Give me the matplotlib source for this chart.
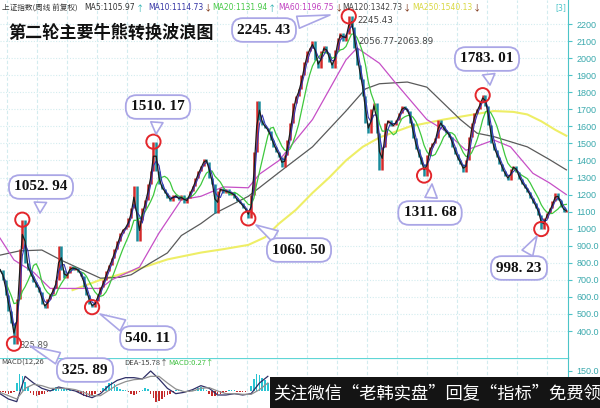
import numpy as np
import pandas as pd
import matplotlib
matplotlib.use("Agg")
import matplotlib.pyplot as plt
from matplotlib.patches import Rectangle

plt.rcParams['font.family'] = ['Noto Sans CJK SC', 'DejaVu Sans']

# 上证指数 weekly close, one value every 3 weeks (1994 -> 2005)
close = [
    760, 700, 610, 520, 450, 325.89, 590, 880, 1052.94, 800,
    760, 720, 690, 660, 630, 560, 535, 590, 620, 650,
    700, 900, 760, 710, 740, 780, 760, 770, 745, 720,
    660, 610, 560, 540.11, 575, 620, 660, 700, 750, 790,
    830, 880, 930, 975, 1000, 1010, 1060, 1120, 1250, 930,
    1050, 1120, 1170, 1260, 1340, 1510.17, 1340, 1260, 1230, 1210,
    1180, 1165, 1200, 1185, 1170, 1195, 1150, 1180, 1220, 1250,
    1300, 1340, 1370, 1410, 1390, 1300, 1260, 1090, 1220, 1240,
    1210, 1230, 1200, 1215, 1180, 1160, 1150, 1120, 1110, 1060.50,
    1200, 1450, 1750, 1640, 1610, 1590, 1570, 1520, 1480, 1450,
    1420, 1360, 1430, 1520, 1620, 1740, 1780, 1820, 1900, 1980,
    2040, 2060, 2100, 1990, 1940, 2040, 2070, 2030, 1980, 1940,
    2050, 2120, 2150, 2100, 2140, 2245.43, 2180, 2060, 1960, 1880,
    1780, 1620, 1560, 1700, 1740, 1560, 1345, 1480, 1620, 1640,
    1600, 1610, 1640, 1680, 1720, 1700, 1690, 1620, 1530, 1470,
    1420, 1380, 1311.68, 1430, 1480, 1500, 1530, 1640, 1600, 1580,
    1560, 1540, 1480, 1440, 1400, 1380, 1330, 1400, 1540, 1620,
    1680, 1700, 1750, 1783.01, 1720, 1610, 1500, 1460, 1420, 1380,
    1340, 1310, 1285, 1350, 1370, 1330, 1290, 1260, 1240, 1215,
    1180, 1150, 1120, 1080, 998.23, 1060, 1090, 1120, 1160, 1210,
    1170, 1130, 1100, 1110,
]

# 牛熊转换点 (index into close)
turn_idx = [5, 8, 33, 55, 89, 125, 152, 173, 194]

# long moving averages
ma60_idx = [0, 5, 12, 18, 30, 36, 40, 50, 57, 65, 72, 80, 89, 93, 100, 112, 124, 128,
            136, 141, 153, 159, 167, 177, 183, 191, 197, 203]
ma60_val = [945, 817, 745, 650, 650, 650, 700, 775, 975, 1170, 1190, 1245, 1240, 1320,
            1400, 1640, 1990, 2060, 1970, 1870, 1640, 1580, 1460, 1520, 1480, 1325, 1268, 1200]
ma120_idx = [0, 7, 15, 22, 28, 36, 43, 47, 54, 60, 65, 72, 77, 89, 100, 112, 124, 131,
             136, 141, 146, 153, 165, 171, 177, 189, 197, 203]
ma120_val = [845, 870, 875, 815, 770, 710, 715, 730, 800, 858, 960, 1030, 1090, 1190,
             1330, 1480, 1690, 1820, 1850, 1855, 1860, 1830, 1640, 1560, 1540, 1480, 1405, 1345]
ma250_idx = [26, 36, 47, 60, 72, 80, 89, 95, 100, 106, 112, 118, 124, 130, 136, 147,
             159, 168, 177, 184, 189, 194, 199, 203]
ma250_val = [640, 700, 750, 820, 860, 880, 905, 950, 1030, 1110, 1210, 1300, 1400, 1480,
             1535, 1600, 1640, 1665, 1690, 1685, 1670, 1630, 1580, 1545]

# MACD (visible part only, left of the banner)
macd_hist = [
    -5, -10, -15, -20, -15, -10,
    60, 130, 110, 70, 30,
    -15, -30, -35, -30, -25, -20, -10,
    10, 20, 30, 25, 20, 25, 15, 10, 5, 0,
    -10, -25, -40, -45, -40, -30, -20, -10, -5,
    20, 40, 60, 65, 50, 30,
    15, 10, 5, -5,
    -20, -30, -20, -10,
    10, 20, 15,
    -20, -50, -80, -75, -60, -45, -30, -20, -10,
    5, 10, 5, -5, -10, -5, 5, 10,
    25, 30, 20, 10,
    -20, -35, -40, -35, -25, -15, -5,
    5, 10, 5, -5, -10, -10, -5, 0,
    40, 90, 130, 120, 100, 80, 60,
]
dif_idx = list(range(0, 97, 3))
dif_val = [-20, -60, -80, 110, 60, 20, 0, 30, 15, 0, -30, -50, -20, 40, 80, 100, 100,
           90, 150, 90, 20, -20, -10, 10, 40, 20, -30, -30, -20, -30, -20, 60, 110]
dea_val = [-10, -35, -60, 20, 50, 40, 20, 20, 20, 10, -10, -35, -35, 5, 45, 70, 85,
           90, 110, 110, 60, 15, -5, 0, 20, 25, 0, -20, -20, -25, -25, 10, 60]

ma_legend = [("MA5:1105.97", "↑"), ("MA10:1114.73", "↓"), ("MA20:1131.94", "↑"),
             ("MA60:1196.75", "↓"), ("MA120:1342.73", "↓"), ("MA250:1540.13", "↓")]

W, H = 600, 408
CY = '#4cc4c8'
GRID = '#d3ecef'

fig = plt.figure(figsize=(W / 100, H / 100), dpi=100)
mx = fig.add_axes([0, 0, 568 / W, 50 / H])
ax = fig.add_axes([0, 50 / H, 568 / W, 358 / H])
ax.set_zorder(2)

s = pd.Series(close)
k = np.arange(len(close))
xmax = 568 / 2.79

# candles: open = previous close
opens = s.shift(1).fillna(s)
up = s >= opens
ax.vlines(k[up], opens[up], s[up], colors='#d42a2a', lw=1.8, zorder=3)
ax.vlines(k[~up], opens[~up], s[~up], colors='#1a8c9c', lw=1.8, zorder=3)

ax.plot(ma250_idx, ma250_val, color='#eeee66', lw=1.5, zorder=2)
ax.plot(ma120_idx, ma120_val, color='#5a5a5a', lw=0.9, zorder=2)
ax.plot(ma60_idx, ma60_val, color='#c64fc6', lw=0.9, zorder=2)
ax.plot(k, s.rolling(7, min_periods=1).mean(), color='#3ec83e', lw=0.9, zorder=4)
ax.plot(k, s.rolling(3, min_periods=1).mean(), color='#3434b4', lw=0.8, zorder=4)
ax.plot(k, s.rolling(2, min_periods=1).mean(), color='#1c1c1c', lw=0.9, zorder=4)

tv = s[turn_idx]
ax.scatter(turn_idx, tv, s=105, facecolors='none', edgecolors='#e3262b', linewidths=1.4, zorder=6)

# callout boxes: (box centre, tail tip) in image pixels
call_pos = [((85, 370), (30, 346)), ((41, 187), (40, 213)), ((148, 338), (100, 314)),
            ((158, 107), (156, 134)), ((299, 250), (256, 225)), ((264, 30), (330, 15)),
            ((430, 213), (432, 184)), ((487, 59), (490, 85)), ((519, 268), (537, 236))]
for v, (box, tip) in zip(tv, call_pos):
    ax.annotate(f"{v:.2f}".replace(".", ". "), xy=(tip[0], H - tip[1]), xycoords='figure pixels',
                xytext=(box[0], H - box[1]), textcoords='figure pixels',
                ha='center', va='center', fontsize=11, fontweight='bold',
                family=['Liberation Serif', 'DejaVu Serif'], color='#111', zorder=8,
                bbox=dict(boxstyle='round,pad=0.35,rounding_size=0.7', fc='white', ec='#aaa6e6', lw=1.3),
                arrowprops=dict(arrowstyle='wedge,tail_width=0.8,shrink_factor=0.5',
                                fc='white', ec='#aaa6e6', lw=1.2, shrinkB=0))

ax.annotate(f"{close[5]:.2f}", xy=(5, close[5]), xytext=(4, -1), textcoords='offset points',
            fontsize=6, color='#555', va='center', family='DejaVu Sans')
ax.annotate(f"{close[125]:.2f}", xy=(125, close[125]), xytext=(6, -3), textcoords='offset points',
            fontsize=6.3, color='#444', va='center', family='DejaVu Sans')
fig.text(358 / W, 1 - 42 / H, "2056.77-2063.89", fontsize=6.3, color='#444', va='center', family='DejaVu Sans')

ax.set_xlim(0, xmax)
ax.set_ylim(242, 2341)
yt = list(range(400, 2201, 100))
ax.set_yticks(yt)
ax.set_yticklabels([f"{v}" if v >= 1000 else f"{v:.1f}" for v in yt])
ax.yaxis.tick_right()
ax.tick_params(axis='y', colors=CY, labelcolor='#3aa9ad', labelsize=6.5, length=3, pad=3)
for lab in ax.get_yticklabels():
    lab.set_family('Liberation Sans')
gx = np.arange(2.5, xmax, 10.75)
ax.set_xticks(gx)
ax.tick_params(axis='x', length=0, labelbottom=False)
ax.grid(axis='y', color=GRID, ls=(0, (1, 1.5)), lw=0.8)
ax.grid(axis='x', color=GRID, ls=(0, (3, 2)), lw=0.8)
for sp in ['top', 'left', 'bottom']:
    ax.spines[sp].set_visible(False)
ax.spines['right'].set_color(CY)

# MACD panel
mk = np.arange(len(macd_hist))
hist = np.array(macd_hist)
mx.bar(mk, hist, width=0.55, color=np.where(hist >= 0, '#29c4d2', '#c42a2a'))
mx.plot(dif_idx, dif_val, color='#2e2e66', lw=0.9)
mx.plot(dif_idx, dea_val, color='#909090', lw=0.9)
mx.set_xlim(0, xmax)
mx.set_ylim(-127.5, 247.5)
mx.set_yticks([150])
mx.set_yticklabels(["150.0"])
mx.yaxis.tick_right()
mx.tick_params(axis='y', colors=CY, labelcolor='#3aa9ad', labelsize=6.5, length=3, pad=3)
mx.get_yticklabels()[0].set_family('Liberation Sans')
mx.set_xticks(gx)
mx.tick_params(axis='x', length=0, labelbottom=False)
mx.grid(axis='x', color=GRID, ls=(0, (3, 2)), lw=0.8)
for sp in ['left', 'bottom']:
    mx.spines[sp].set_visible(False)
mx.spines['right'].set_color(CY)
mx.spines['top'].set_color('#5fd6d6')
mx.spines['top'].set_linewidth(1.6)

fig.text(1 / W, 1 - 363 / H, "MACD(12,26", fontsize=5.5, color='#444', va='center')
fig.text(124 / W, 1 - 363 / H, "DEA-15.78↑", fontsize=5.5, color='#444', va='center')
fig.text(168 / W, 1 - 363 / H, "MACD:0.27↑", fontsize=5.5, color='#40c040', va='center')

# header line: place each piece after the previous one
fig.canvas.draw()
r = fig.canvas.get_renderer()
hy = 1 - 8 / H
fig.text(2 / W, hy, "上证指数(周线 前复权)", fontsize=5.5, color='#333', va='center')
ma_col = ['#333333', '#3535a5', '#45c845', '#c040c0', '#444444', '#d8d840']
ma_x = [84, 148, 212, 278, 342, 412]
for (t, arr), c, x in zip(ma_legend, ma_col, ma_x):
    tt = fig.text(x / W, hy, t, fontsize=5.5, color=c, va='center', family='DejaVu Sans')
    x1 = tt.get_window_extent(r).x1
    fig.text((x1 + 1) / W, hy, arr, fontsize=6, va='center',
             color='#2ab0b0' if arr == "↑" else '#7a3010')
fig.text(555 / W, hy, "[3]", fontsize=5.5, color=CY, va='center', family='DejaVu Sans')

fig.text(8 / W, 1 - 33 / H, "第二轮主要牛熊转换波浪图", fontsize=12.3, fontweight='bold',
         color='#111', va='center')

# banner
fig.add_artist(Rectangle((270 / W, 0), 330 / W, 31 / H, transform=fig.transFigure,
                         fc='#141414', ec='none', zorder=10))
fig.text(273 / W, 15 / H, "关注微信“老韩实盘”回复“指标”免费领", fontsize=12.4, color='white',
         va='center', zorder=11)

fig.savefig("out.png", dpi=100)
